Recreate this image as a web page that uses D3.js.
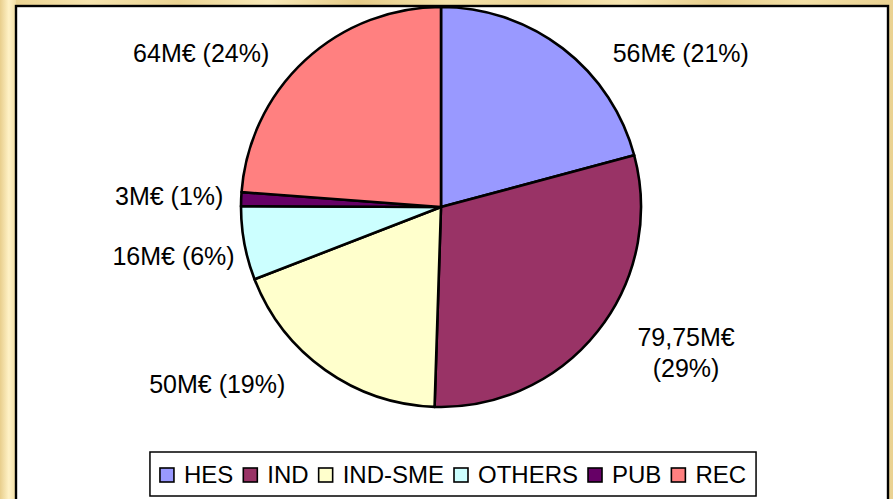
<!DOCTYPE html>
<html>
<head>
<meta charset="utf-8">
<title>Budget split</title>
<script src="https://d3js.org/d3.v7.min.js"></script>
<style>
body {margin: 0; background: #F1DDA2;}
svg text {font-family: "Liberation Sans", Arial, sans-serif; fill: #000;}
</style>
</head>
<body>
<svg width="893" height="499"></svg>
<script>
// data
var categories = ["HES", "IND", "IND-SME", "OTHERS", "PUB", "REC"];
var values = [56, 79.75, 50, 16, 3, 64];          // M€
var percents = [21, 29, 19, 6, 1, 24];            // as printed on the labels
var colors = ["#9999FF", "#993366", "#FFFFCC", "#CCFFFF", "#660066", "#FF8080"];

var svg = d3.select("svg"),
    W = +svg.attr("width"),
    H = +svg.attr("height");

// parchment background
var defs = svg.append("defs");
var stripes = defs.append("linearGradient").attr("id", "parch")
    .attr("x1", 0).attr("x2", 1).attr("y1", 0).attr("y2", 0);
var stripeCols = ["#E9D08C", "#F6E4AE", "#EBD493", "#F8E9B8", "#E6CC88", "#F4E2AA", "#ECD596", "#F7E6B2", "#E8CF8D", "#F3E0A6", "#EAD292"];
stripeCols.forEach(function(c, i) {
    stripes.append("stop").attr("offset", i / (stripeCols.length - 1)).attr("stop-color", c);
});
var leftG = defs.append("linearGradient").attr("id", "leftParch")
    .attr("x1", 0).attr("x2", 1).attr("y1", 0).attr("y2", 0);
leftG.append("stop").attr("offset", 0).attr("stop-color", "#E8CE8C");
leftG.append("stop").attr("offset", 0.55).attr("stop-color", "#FFF2C6");
leftG.append("stop").attr("offset", 1).attr("stop-color", "#F2DEA4");

svg.append("rect").attr("width", W).attr("height", H).attr("fill", "url(#parch)");
svg.append("rect").attr("width", 16).attr("height", H).attr("fill", "url(#leftParch)");

// white plot area
var plot = {x: 17, y: 7, w: 872, h: 520};
svg.append("rect")
    .attr("x", plot.x - 1).attr("y", plot.y - 1)
    .attr("width", plot.w).attr("height", plot.h)
    .attr("fill", "#fff").attr("stroke", "#000").attr("stroke-width", 2.4);

// pie
var cx = 441, cy = 207, r = 200;
var pie = d3.pie().sort(null).value(function(d) { return d.value; });
var rows = categories.map(function(c, i) {
    return {name: c, value: values[i], pct: percents[i], color: colors[i]};
});
var arcs = pie(rows);
var arc = d3.arc().innerRadius(0).outerRadius(r);

var g = svg.append("g").attr("transform", "translate(" + cx + "," + cy + ")");
g.selectAll("path")
    .data(arcs)
    .enter().append("path")
    .attr("d", arc)
    .attr("fill", function(d) { return d.data.color; })
    .attr("stroke", "#000")
    .attr("stroke-width", 2.6)
    .attr("stroke-linejoin", "round");

// data labels, outside the pie, kept inside the plot band
// (a label pushed by the band slides outward along a wider circle)
var fontSize = 25, lineH = 31, maxW = 150, labelR = 272, pushedR = 285;
var bandTop = 53 - cy, bandBottom = 399 - cy;
var labels = svg.append("g").attr("transform", "translate(" + cx + "," + cy + ")")
    .attr("font-size", fontSize).attr("text-anchor", "middle");

arcs.forEach(function(d) {
    var full = String(d.data.value).replace(".", ",") + "M€ (" + d.data.pct + "%)";
    var t = labels.append("text");
    t.text(full);
    var lines = [full];
    if (t.node().getComputedTextLength() > maxW) lines = full.split(" ");
    t.text(null);

    var mid = (d.startAngle + d.endAngle) / 2;
    var x = labelR * Math.sin(mid), y = -labelR * Math.cos(mid);
    var half = (lines.length * lineH) / 2;
    var yc = Math.max(bandTop + half - lineH / 2, Math.min(bandBottom - half - (lines.length - 1) * lineH / 2, y));
    if (yc !== y) {
        var side = x < 0 ? -1 : 1;
        x = side * Math.sqrt(Math.max(0, pushedR * pushedR - yc * yc));
    }
    lines.forEach(function(s, i) {
        t.append("tspan")
            .attr("x", x)
            .attr("y", yc - (lines.length - 1) * lineH / 2 + i * lineH + fontSize * 0.36)
            .text(s);
    });
});

// legend
var legBox = {y: 452, h: 44, pad: 10};
var mark = 14, markGap = 10, itemGap = 10;
var leg = svg.append("g").attr("font-size", 24);
var items = leg.selectAll("g").data(rows).enter().append("g");
items.append("text").attr("dy", "0.35em").text(function(d) { return d.name; });
var offsets = [], xPos = 0;
items.each(function() {
    var tw = d3.select(this).select("text").node().getComputedTextLength();
    offsets.push(xPos);
    xPos += mark + markGap + tw + itemGap;
});
var contentW = xPos - itemGap;
var boxW = contentW + 2 * legBox.pad;
var boxX = plot.x + (plot.w - boxW) / 2;
leg.insert("rect", ":first-child")
    .attr("x", boxX).attr("y", legBox.y)
    .attr("width", boxW).attr("height", legBox.h)
    .attr("fill", "#fff").attr("stroke", "#000").attr("stroke-width", 1.5);
items.select("text").attr("x", mark + markGap);
items.insert("rect", "text")
    .attr("x", 0).attr("y", -mark / 2)
    .attr("width", mark).attr("height", mark)
    .attr("fill", function(d) { return d.color; })
    .attr("stroke", "#000").attr("stroke-width", 1.6);
items.attr("transform", function(d, i) {
    return "translate(" + (boxX + legBox.pad + offsets[i]) + "," + (legBox.y + legBox.h / 2 + 1) + ")";
});
</script>
</body>
</html>
